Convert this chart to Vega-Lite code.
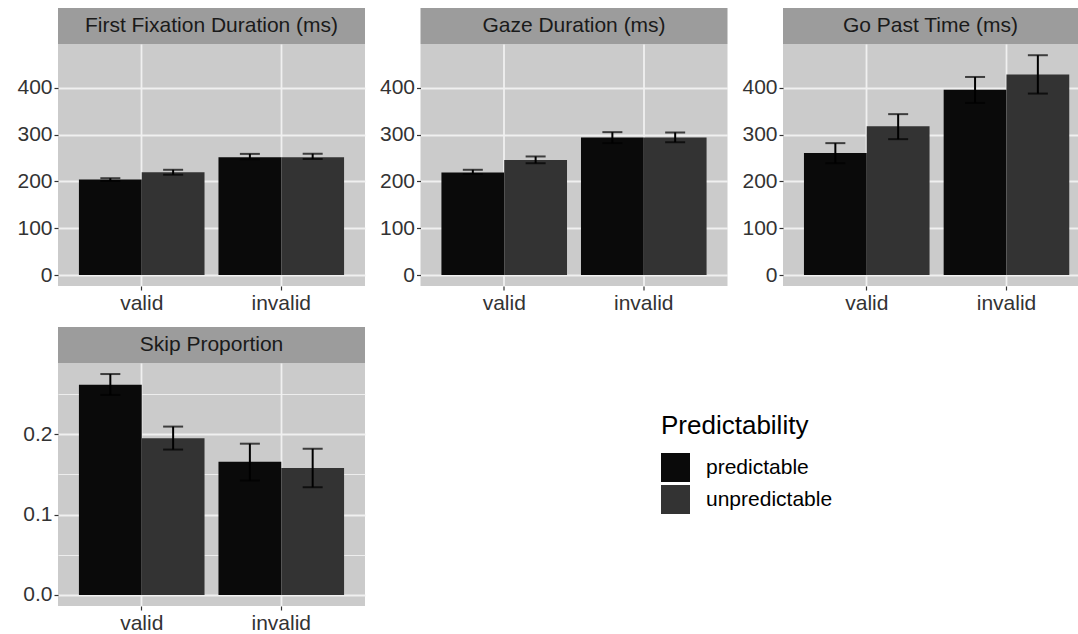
{
  "$schema": "https://vega.github.io/schema/vega-lite/v6.json",
  "background": "white",
  "padding": {"left": 16, "top": 8, "right": 0, "bottom": 0},
  "config": {
    "font": "Liberation Sans",
    "view": {"stroke": null}
  },
  "datasets": {
    "eye": [
      {"measure": "FFD", "validity": "valid", "pred": "predictable", "mean": 204, "lo": 201, "hi": 207},
      {"measure": "FFD", "validity": "valid", "pred": "unpredictable", "mean": 220, "lo": 214.5, "hi": 225},
      {"measure": "FFD", "validity": "invalid", "pred": "predictable", "mean": 252, "lo": 247.5, "hi": 259},
      {"measure": "FFD", "validity": "invalid", "pred": "unpredictable", "mean": 252, "lo": 248, "hi": 259.5},
      {"measure": "GD", "validity": "valid", "pred": "predictable", "mean": 219, "lo": 216, "hi": 225},
      {"measure": "GD", "validity": "valid", "pred": "unpredictable", "mean": 246, "lo": 239, "hi": 253.5},
      {"measure": "GD", "validity": "invalid", "pred": "predictable", "mean": 294, "lo": 282, "hi": 305.5},
      {"measure": "GD", "validity": "invalid", "pred": "unpredictable", "mean": 294, "lo": 284, "hi": 305},
      {"measure": "GP", "validity": "valid", "pred": "predictable", "mean": 261, "lo": 239, "hi": 282},
      {"measure": "GP", "validity": "valid", "pred": "unpredictable", "mean": 318, "lo": 290.5, "hi": 344},
      {"measure": "GP", "validity": "invalid", "pred": "predictable", "mean": 396, "lo": 368, "hi": 423.5},
      {"measure": "GP", "validity": "invalid", "pred": "unpredictable", "mean": 429, "lo": 388, "hi": 470},
      {"measure": "SP", "validity": "valid", "pred": "predictable", "mean": 0.2617, "lo": 0.249, "hi": 0.275},
      {"measure": "SP", "validity": "valid", "pred": "unpredictable", "mean": 0.195, "lo": 0.181, "hi": 0.2096},
      {"measure": "SP", "validity": "invalid", "pred": "predictable", "mean": 0.1658, "lo": 0.1425, "hi": 0.1883},
      {"measure": "SP", "validity": "invalid", "pred": "unpredictable", "mean": 0.158, "lo": 0.134, "hi": 0.182}
    ]
  },
  "columns": 3,
  "spacing": {"row": 14, "column": 13.5},
  "concat": [
    {
      "spacing": 0,
      "vconcat": [
        {"width": 307, "height": 36, "view": {"fill": "#9c9c9c"}, "data": {"values": [{"panel": "First Fixation Duration (ms)"}]},
         "mark": {"type": "text", "fontSize": 21, "color": "#1a1a1a"}, "encoding": {"text": {"field": "panel"}}},
        {"width": 307, "height": 242, "view": {"fill": "#cbcbcb"}, "data": {"name": "eye"},
         "transform": [{"filter": "datum.measure === 'FFD'"}],
         "encoding": {
           "x": {"field": "validity", "type": "nominal", "sort": ["valid", "invalid"], "scale": {"paddingInner": 0.1, "paddingOuter": 0.15},
                 "axis": {"title": null, "grid": true, "gridColor": "#f0f0f0", "gridWidth": 1.8, "bandPosition": 0.5, "domain": false, "tickSize": 4, "tickColor": "#333333", "tickWidth": 1.2, "labelFontSize": 21, "labelColor": "#333333", "labelPadding": 2, "labelAngle": 0}},
           "xOffset": {"field": "pred", "type": "nominal", "sort": ["predictable", "unpredictable"], "scale": {"paddingInner": 0, "paddingOuter": 0}}
         },
         "layer": [
           {"mark": {"type": "bar"},
            "encoding": {
              "y": {"field": "mean", "type": "quantitative", "scale": {"domain": [-23.5, 494], "nice": false, "zero": false},
                    "axis": {"title": null, "values": [0, 50, 100, 150, 200, 250, 300, 350, 400, 450], "labelExpr": "datum.value % 100 === 0 ? datum.label : ''", "labelOverlap": false,
                             "tickOpacity": {"condition": {"test": "datum.value % 100 === 0", "value": 1}, "value": 0},
                             "gridWidth": {"condition": {"test": "datum.value % 100 === 0", "value": 1.8}, "value": 0.9},
                             "gridColor": "#f0f0f0", "domain": false, "tickSize": 4, "tickColor": "#333333", "tickWidth": 1.2, "labelFontSize": 21, "labelColor": "#333333", "labelPadding": 2}},
              "color": {"field": "pred", "type": "nominal", "scale": {"domain": ["predictable", "unpredictable"], "range": ["#0a0a0a", "#333333"]},
                        "legend": {"orient": "none", "legendX": 603, "legendY": 405, "title": "Predictability", "titleFontSize": 26, "titleFontWeight": "normal", "titleColor": "#000000", "titlePadding": 14, "labelFontSize": 21, "labelColor": "#000000", "symbolType": "square", "symbolSize": 841, "symbolStrokeWidth": 0, "symbolOpacity": 1, "rowPadding": 3, "labelOffset": 16}}
            }},
           {"mark": {"type": "rule", "color": "black", "strokeWidth": 2},
            "encoding": {"y": {"field": "lo", "type": "quantitative", "title": null}, "y2": {"field": "hi"}}},
           {"mark": {"type": "tick", "color": "black", "size": 20, "thickness": 2},
            "encoding": {"y": {"field": "lo", "type": "quantitative", "title": null}}},
           {"mark": {"type": "tick", "color": "black", "size": 20, "thickness": 2},
            "encoding": {"y": {"field": "hi", "type": "quantitative", "title": null}}}
         ]}
      ]
    },
    {
      "spacing": 0,
      "vconcat": [
        {"width": 307, "height": 36, "view": {"fill": "#9c9c9c"}, "data": {"values": [{"panel": "Gaze Duration (ms)"}]},
         "mark": {"type": "text", "fontSize": 21, "color": "#1a1a1a"}, "encoding": {"text": {"field": "panel"}}},
        {"width": 307, "height": 242, "view": {"fill": "#cbcbcb"}, "data": {"name": "eye"},
         "transform": [{"filter": "datum.measure === 'GD'"}],
         "encoding": {
           "x": {"field": "validity", "type": "nominal", "sort": ["valid", "invalid"], "scale": {"paddingInner": 0.1, "paddingOuter": 0.15},
                 "axis": {"title": null, "grid": true, "gridColor": "#f0f0f0", "gridWidth": 1.8, "bandPosition": 0.5, "domain": false, "tickSize": 4, "tickColor": "#333333", "tickWidth": 1.2, "labelFontSize": 21, "labelColor": "#333333", "labelPadding": 2, "labelAngle": 0}},
           "xOffset": {"field": "pred", "type": "nominal", "sort": ["predictable", "unpredictable"], "scale": {"paddingInner": 0, "paddingOuter": 0}}
         },
         "layer": [
           {"mark": {"type": "bar"},
            "encoding": {
              "y": {"field": "mean", "type": "quantitative", "scale": {"domain": [-23.5, 494], "nice": false, "zero": false},
                    "axis": {"title": null, "values": [0, 50, 100, 150, 200, 250, 300, 350, 400, 450], "labelExpr": "datum.value % 100 === 0 ? datum.label : ''", "labelOverlap": false,
                             "tickOpacity": {"condition": {"test": "datum.value % 100 === 0", "value": 1}, "value": 0},
                             "gridWidth": {"condition": {"test": "datum.value % 100 === 0", "value": 1.8}, "value": 0.9},
                             "gridColor": "#f0f0f0", "domain": false, "tickSize": 4, "tickColor": "#333333", "tickWidth": 1.2, "labelFontSize": 21, "labelColor": "#333333", "labelPadding": 2}},
              "color": {"field": "pred", "type": "nominal", "scale": {"domain": ["predictable", "unpredictable"], "range": ["#0a0a0a", "#333333"]},
                        "legend": {"orient": "none", "legendX": 603, "legendY": 405, "title": "Predictability", "titleFontSize": 26, "titleFontWeight": "normal", "titleColor": "#000000", "titlePadding": 14, "labelFontSize": 21, "labelColor": "#000000", "symbolType": "square", "symbolSize": 841, "symbolStrokeWidth": 0, "symbolOpacity": 1, "rowPadding": 3, "labelOffset": 16}}
            }},
           {"mark": {"type": "rule", "color": "black", "strokeWidth": 2},
            "encoding": {"y": {"field": "lo", "type": "quantitative", "title": null}, "y2": {"field": "hi"}}},
           {"mark": {"type": "tick", "color": "black", "size": 20, "thickness": 2},
            "encoding": {"y": {"field": "lo", "type": "quantitative", "title": null}}},
           {"mark": {"type": "tick", "color": "black", "size": 20, "thickness": 2},
            "encoding": {"y": {"field": "hi", "type": "quantitative", "title": null}}}
         ]}
      ]
    },
    {
      "spacing": 0,
      "vconcat": [
        {"width": 295, "height": 36, "view": {"fill": "#9c9c9c"}, "data": {"values": [{"panel": "Go Past Time (ms)"}]},
         "mark": {"type": "text", "fontSize": 21, "color": "#1a1a1a"}, "encoding": {"text": {"field": "panel"}}},
        {"width": 295, "height": 242, "view": {"fill": "#cbcbcb"}, "data": {"name": "eye"},
         "transform": [{"filter": "datum.measure === 'GP'"}],
         "encoding": {
           "x": {"field": "validity", "type": "nominal", "sort": ["valid", "invalid"], "scale": {"paddingInner": 0.1, "paddingOuter": 0.1058, "align": 0.709},
                 "axis": {"title": null, "grid": true, "gridColor": "#f0f0f0", "gridWidth": 1.8, "bandPosition": 0.5, "domain": false, "tickSize": 4, "tickColor": "#333333", "tickWidth": 1.2, "labelFontSize": 21, "labelColor": "#333333", "labelPadding": 2, "labelAngle": 0}},
           "xOffset": {"field": "pred", "type": "nominal", "sort": ["predictable", "unpredictable"], "scale": {"paddingInner": 0, "paddingOuter": 0}}
         },
         "layer": [
           {"mark": {"type": "bar"},
            "encoding": {
              "y": {"field": "mean", "type": "quantitative", "scale": {"domain": [-23.5, 494], "nice": false, "zero": false},
                    "axis": {"title": null, "values": [0, 50, 100, 150, 200, 250, 300, 350, 400, 450], "labelExpr": "datum.value % 100 === 0 ? datum.label : ''", "labelOverlap": false,
                             "tickOpacity": {"condition": {"test": "datum.value % 100 === 0", "value": 1}, "value": 0},
                             "gridWidth": {"condition": {"test": "datum.value % 100 === 0", "value": 1.8}, "value": 0.9},
                             "gridColor": "#f0f0f0", "domain": false, "tickSize": 4, "tickColor": "#333333", "tickWidth": 1.2, "labelFontSize": 21, "labelColor": "#333333", "labelPadding": 2}},
              "color": {"field": "pred", "type": "nominal", "scale": {"domain": ["predictable", "unpredictable"], "range": ["#0a0a0a", "#333333"]},
                        "legend": {"orient": "none", "legendX": 603, "legendY": 405, "title": "Predictability", "titleFontSize": 26, "titleFontWeight": "normal", "titleColor": "#000000", "titlePadding": 14, "labelFontSize": 21, "labelColor": "#000000", "symbolType": "square", "symbolSize": 841, "symbolStrokeWidth": 0, "symbolOpacity": 1, "rowPadding": 3, "labelOffset": 16}}
            }},
           {"mark": {"type": "rule", "color": "black", "strokeWidth": 2},
            "encoding": {"y": {"field": "lo", "type": "quantitative", "title": null}, "y2": {"field": "hi"}}},
           {"mark": {"type": "tick", "color": "black", "size": 20, "thickness": 2},
            "encoding": {"y": {"field": "lo", "type": "quantitative", "title": null}}},
           {"mark": {"type": "tick", "color": "black", "size": 20, "thickness": 2},
            "encoding": {"y": {"field": "hi", "type": "quantitative", "title": null}}}
         ]}
      ]
    },
    {
      "spacing": 0,
      "vconcat": [
        {"width": 307, "height": 36, "view": {"fill": "#9c9c9c"}, "data": {"values": [{"panel": "Skip Proportion"}]},
         "mark": {"type": "text", "fontSize": 21, "color": "#1a1a1a"}, "encoding": {"text": {"field": "panel"}}},
        {"width": 307, "height": 243, "view": {"fill": "#cbcbcb"}, "data": {"name": "eye"},
         "transform": [{"filter": "datum.measure === 'SP'"}],
         "encoding": {
           "x": {"field": "validity", "type": "nominal", "sort": ["valid", "invalid"], "scale": {"paddingInner": 0.1, "paddingOuter": 0.15},
                 "axis": {"title": null, "grid": true, "gridColor": "#f0f0f0", "gridWidth": 1.8, "bandPosition": 0.5, "domain": false, "tickSize": 4, "tickColor": "#333333", "tickWidth": 1.2, "labelFontSize": 21, "labelColor": "#333333", "labelPadding": 2, "labelAngle": 0}},
           "xOffset": {"field": "pred", "type": "nominal", "sort": ["predictable", "unpredictable"], "scale": {"paddingInner": 0, "paddingOuter": 0}}
         },
         "layer": [
           {"mark": {"type": "bar"},
            "encoding": {
              "y": {"field": "mean", "type": "quantitative", "scale": {"domain": [-0.01375, 0.28875], "nice": false, "zero": false},
                    "axis": {"title": null, "values": [0, 0.05, 0.1, 0.15, 0.2, 0.25], "format": ".1f", "labelExpr": "round(datum.value * 100) % 10 === 0 ? datum.label : ''", "labelOverlap": false,
                             "tickOpacity": {"condition": {"test": "round(datum.value * 100) % 10 === 0", "value": 1}, "value": 0},
                             "gridWidth": {"condition": {"test": "round(datum.value * 100) % 10 === 0", "value": 1.8}, "value": 0.9},
                             "gridColor": "#f0f0f0", "domain": false, "tickSize": 4, "tickColor": "#333333", "tickWidth": 1.2, "labelFontSize": 21, "labelColor": "#333333", "labelPadding": 2}},
              "color": {"field": "pred", "type": "nominal", "scale": {"domain": ["predictable", "unpredictable"], "range": ["#0a0a0a", "#333333"]},
                        "legend": {"orient": "none", "legendX": 603, "legendY": 405, "title": "Predictability", "titleFontSize": 26, "titleFontWeight": "normal", "titleColor": "#000000", "titlePadding": 14, "labelFontSize": 21, "labelColor": "#000000", "symbolType": "square", "symbolSize": 841, "symbolStrokeWidth": 0, "symbolOpacity": 1, "rowPadding": 3, "labelOffset": 16}}
            }},
           {"mark": {"type": "rule", "color": "black", "strokeWidth": 2},
            "encoding": {"y": {"field": "lo", "type": "quantitative", "title": null}, "y2": {"field": "hi"}}},
           {"mark": {"type": "tick", "color": "black", "size": 20, "thickness": 2},
            "encoding": {"y": {"field": "lo", "type": "quantitative", "title": null}}},
           {"mark": {"type": "tick", "color": "black", "size": 20, "thickness": 2},
            "encoding": {"y": {"field": "hi", "type": "quantitative", "title": null}}}
         ]}
      ]
    }
  ]
}
